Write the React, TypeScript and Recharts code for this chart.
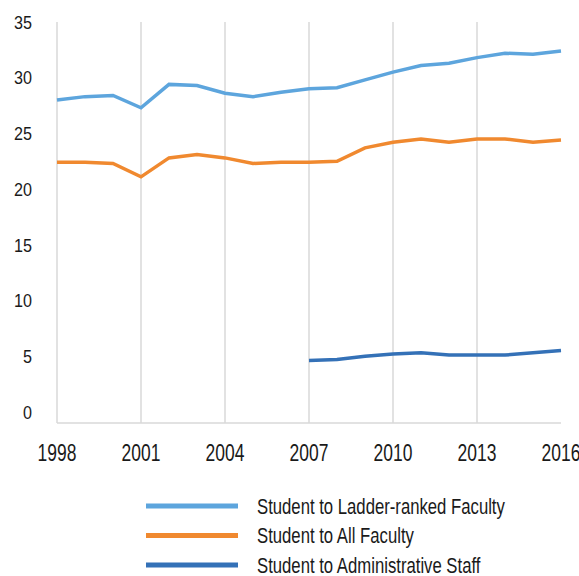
import { LineChart, Line, XAxis, YAxis, ReferenceLine } from "recharts";

const YEARS = [1998, 1999, 2000, 2001, 2002, 2003, 2004, 2005, 2006, 2007, 2008, 2009, 2010, 2011, 2012, 2013, 2014, 2015, 2016];
const LADDER = [28.0, 28.3, 28.4, 27.3, 29.4, 29.3, 28.6, 28.3, 28.7, 29.0, 29.1, 29.8, 30.5, 31.1, 31.3, 31.8, 32.2, 32.1, 32.4];
const ALL_FACULTY = [22.4, 22.4, 22.3, 21.1, 22.8, 23.1, 22.8, 22.3, 22.4, 22.4, 22.5, 23.7, 24.2, 24.5, 24.2, 24.5, 24.5, 24.2, 24.4];
const ADMIN = [null, null, null, null, null, null, null, null, null, 4.6, 4.7, 5.0, 5.2, 5.3, 5.1, 5.1, 5.1, 5.3, 5.5];

const X_TICKS = [1998, 2001, 2004, 2007, 2010, 2013, 2016];
const GRID_YEARS = [1998, 2001, 2004, 2007, 2010, 2013];
const Y_TICKS = [0, 5, 10, 15, 20, 25, 30, 35];

const SERIES = [
  { key: "ladder", name: "Student to Ladder-ranked Faculty", color: "#5da5dd" },
  { key: "all", name: "Student to All Faculty", color: "#f0892f" },
  { key: "admin", name: "Student to Administrative Staff", color: "#3471b7" },
];

const data = YEARS.map((year, i) => ({
  year,
  ladder: LADDER[i],
  all: ALL_FACULTY[i],
  admin: ADMIN[i],
}));

const FONT = "'Liberation Sans Narrow', 'Liberation Sans', Arial, sans-serif";
const SQUEEZE = 0.76; // stand-in for the condensed face of the original

function XTick({ x, y, payload }: any) {
  return (
    <g transform={`translate(${x},${y}) scale(${SQUEEZE},1)`}>
      <text x={0} y={0} dy="0.71em" textAnchor="middle" fontSize={23} fontFamily={FONT} fill="#1a1a1a">
        {payload.value}
      </text>
    </g>
  );
}

function YTick({ x, y, payload }: any) {
  return (
    <g transform={`translate(${x},${y}) scale(0.85,1)`}>
      <text x={0} y={0} dy="0.355em" textAnchor="end" fontSize={19} fontFamily={FONT} fill="#1a1a1a">
        {payload.value}
      </text>
    </g>
  );
}

function ChartLegend() {
  return (
    <svg width={579} height={96} style={{ position: "absolute", left: 0, top: 480 }}>
      {SERIES.map((s, i) => {
        const cy = 26 + i * 29.5;
        return (
          <g key={s.key}>
            <line x1={146} x2={238} y1={cy} y2={cy} stroke={s.color} strokeWidth={5} />
            <g transform={`translate(257,${cy}) scale(${SQUEEZE},1)`}>
              <text x={0} y={0} dy="0.355em" fontSize={22} fontFamily={FONT} fill="#1a1a1a">
                {s.name}
              </text>
            </g>
          </g>
        );
      })}
    </svg>
  );
}

export default function App() {
  return (
    <div style={{ position: "absolute", left: 0, top: 0, width: 579, height: 576, background: "#fff" }}>
      <LineChart width={579} height={480} data={data} margin={{ top: 22, right: 18, bottom: 0, left: 0 }}>
        {GRID_YEARS.map((yr) => (
          <ReferenceLine key={yr} x={yr} stroke="#d9d9d9" strokeWidth={1.5} />
        ))}
        <XAxis
          dataKey="year"
          type="number"
          domain={[1998, 2016]}
          ticks={X_TICKS}
          height={57}
          tickSize={0}
          tickMargin={22}
          tick={<XTick />}
          axisLine={{ stroke: "#d9d9d9", strokeWidth: 1.5 }}
          tickLine={false}
        />
        <YAxis
          type="number"
          domain={[-1, 35]}
          ticks={Y_TICKS}
          width={57}
          tickSize={0}
          tickMargin={25}
          tick={<YTick />}
          axisLine={false}
          tickLine={false}
        />
        {SERIES.map((s) => (
          <Line
            key={s.key}
            type="linear"
            dataKey={s.key}
            name={s.name}
            stroke={s.color}
            strokeWidth={3.5}
            dot={false}
            connectNulls={false}
            isAnimationActive={false}
          />
        ))}
      </LineChart>
      <ChartLegend />
    </div>
  );
}
